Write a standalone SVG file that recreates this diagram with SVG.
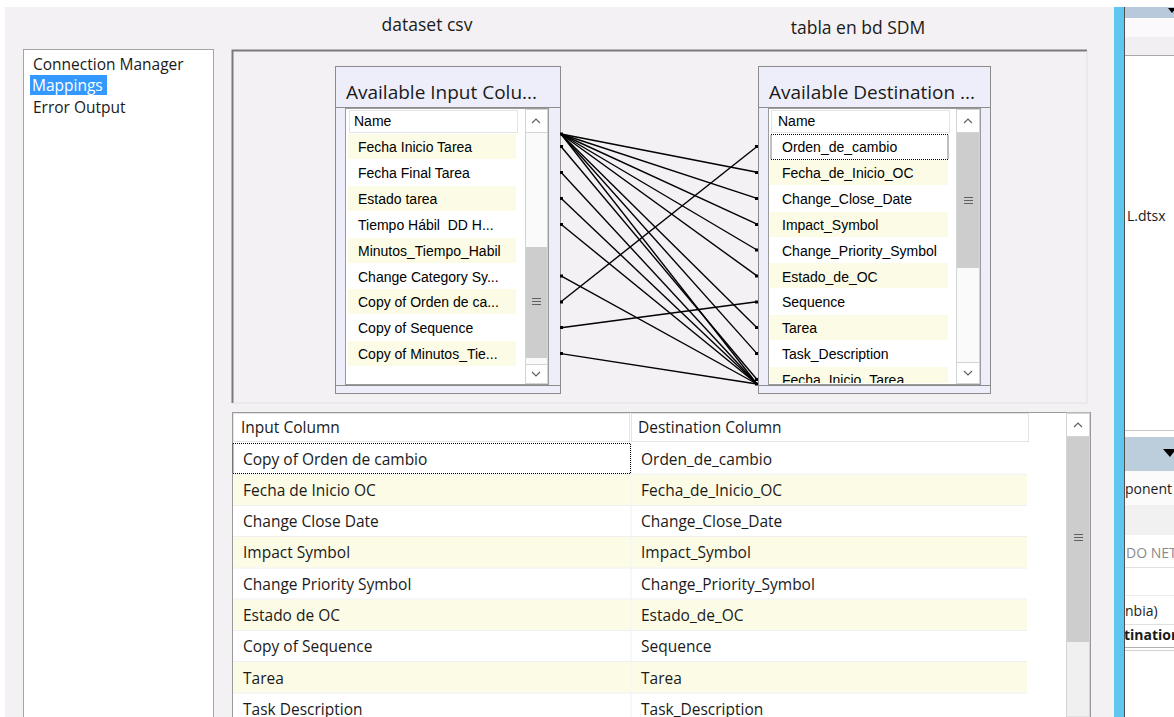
<svg xmlns="http://www.w3.org/2000/svg" width="1174" height="717" viewBox="0 0 1174 717">
<style>
.ui{font-family:"Open Sans","Noto Sans",sans-serif;font-size:15.5px;fill:#1a1a1a}
.hd{font-family:"Open Sans","Noto Sans",sans-serif;font-size:17.5px;fill:#1a1a1a}
.ttl{font-family:"Open Sans","Noto Sans",sans-serif;font-size:19px;fill:#1a1a1a}
.lst{font-family:"Liberation Sans",Arial,sans-serif;font-size:14px;fill:#000}
.yel{fill:#fcfce6}
.wht{fill:#ffffff}
.sbtn{fill:#ffffff;stroke:#d4d4d4;stroke-width:1}
.thumb{fill:#cdcdcd}
.arr{fill:none;stroke:#606060;stroke-width:1.2}
.grip{stroke:#606060;stroke-width:1}
.frame{fill:#eeeefb;stroke:#8c8c8c;stroke-width:1}
.cell{fill:#ffffff;stroke:#e3e3e3;stroke-width:1}
.conn line{stroke:#000;stroke-width:1.4}
.anc{fill:#000}
.rp{font-family:"Open Sans","Noto Sans",sans-serif;font-size:14px;fill:#1a1a1a}
</style>
<defs>
<clipPath id="rpClip"><rect x="1124" y="0" width="50" height="717"/></clipPath>
<clipPath id="destClip"><rect x="769" y="109" width="187" height="274"/></clipPath>
</defs>

<!-- background -->
<rect x="0" y="0" width="1174" height="717" fill="#ffffff"/>
<rect x="5" y="7" width="1110" height="710" fill="#f4f1f4"/>

<!-- header labels -->
<text class="hd" x="427" y="31" text-anchor="middle">dataset csv</text>
<text class="hd" x="858" y="34" text-anchor="middle">tabla en bd SDM</text>

<!-- navigation list -->
<g id="nav">
<rect x="23.5" y="49.5" width="190" height="680" fill="#ffffff" stroke="#a5a5a5"/>
<text class="ui" x="33" y="70">Connection Manager</text>
<rect x="30" y="75" width="77" height="20" fill="#3399ff"/>
<text class="ui" x="32" y="91" style="fill:#ffffff">Mappings</text>
<text class="ui" x="33" y="113">Error Output</text>
</g>

<!-- mapping panel -->
<g id="mapping-panel">
<rect x="232" y="50" width="855" height="353" fill="#f4f1f4"/>
<path d="M232.5,403 V50.5 H1087" fill="none" stroke="#7a7a7a" stroke-width="2"/>
<path d="M1087,51 V403 H233" fill="none" stroke="#e2e0e2" stroke-width="1"/>
</g>

<!-- input columns box -->
<g id="input-columns">
<rect class="frame" x="335.5" y="66.5" width="225" height="327"/>
<line x1="336" y1="107.5" x2="560" y2="107.5" stroke="#8c8c8c"/>
<line x1="336" y1="385.5" x2="560" y2="385.5" stroke="#8c8c8c"/>
<text class="ttl" x="346" y="99">Available Input Colu...</text>
<rect x="345.5" y="108.5" width="203" height="276" fill="#ffffff" stroke="#9a9a9a"/>
<rect class="cell" x="349.5" y="110.5" width="168" height="22"/>
<text class="lst" x="354" y="126">Name</text>
<rect class="yel" x="348" y="134" width="168" height="25"/>
<rect class="yel" x="348" y="186" width="168" height="25"/>
<rect class="yel" x="348" y="238" width="168" height="25"/>
<rect class="yel" x="348" y="289" width="168" height="25"/>
<rect class="yel" x="348" y="341" width="168" height="25"/>
<text class="lst" x="358" y="152">Fecha Inicio Tarea</text>
<text class="lst" x="358" y="178">Fecha Final Tarea</text>
<text class="lst" x="358" y="204">Estado tarea</text>
<text class="lst" x="358" y="230">Tiempo Hábil&#160; DD H...</text>
<text class="lst" x="358" y="256">Minutos_Tiempo_Habil</text>
<text class="lst" x="358" y="282">Change Category Sy...</text>
<text class="lst" x="358" y="307">Copy of Orden de ca...</text>
<text class="lst" x="358" y="333">Copy of Sequence</text>
<text class="lst" x="358" y="359">Copy of Minutos_Tie...</text>
<rect x="525.5" y="109.5" width="22" height="274" fill="#fafafa" stroke="#d4d4d4"/>
<rect class="sbtn" x="525.5" y="109.5" width="22" height="23"/>
<polyline class="arr" points="532,123 536,119 540,123"/>
<rect class="thumb" x="526" y="247" width="21" height="111"/>
<line class="grip" x1="532" y1="298.5" x2="541" y2="298.5"/>
<line class="grip" x1="532" y1="301.5" x2="541" y2="301.5"/>
<line class="grip" x1="532" y1="304.5" x2="541" y2="304.5"/>
<rect class="sbtn" x="525.5" y="364.5" width="22" height="19"/>
<polyline class="arr" points="532,372 536,376 540,372"/>
</g>

<!-- destination columns box -->
<g id="destination-columns">
<rect class="frame" x="758.5" y="66.5" width="232" height="327"/>
<line x1="759" y1="107.5" x2="990" y2="107.5" stroke="#8c8c8c"/>
<line x1="759" y1="385.5" x2="990" y2="385.5" stroke="#8c8c8c"/>
<text class="ttl" x="769" y="99">Available Destination ...</text>
<rect x="768.5" y="108.5" width="212" height="276" fill="#ffffff" stroke="#9a9a9a"/>
<rect class="cell" x="771.5" y="110.5" width="178" height="22"/>
<text class="lst" x="778" y="126">Name</text>
<g clip-path="url(#destClip)">
<rect class="yel" x="770" y="160" width="178" height="25"/>
<rect class="yel" x="770" y="212" width="178" height="25"/>
<rect class="yel" x="770" y="263" width="178" height="25"/>
<rect class="yel" x="770" y="315" width="178" height="25"/>
<rect class="yel" x="770" y="367" width="178" height="25"/>
<rect x="771" y="134.5" width="177" height="25" fill="none" stroke="#000" stroke-width="1" stroke-dasharray="1,1"/>
<text class="lst" x="782" y="152">Orden_de_cambio</text>
<text class="lst" x="782" y="178">Fecha_de_Inicio_OC</text>
<text class="lst" x="782" y="204">Change_Close_Date</text>
<text class="lst" x="782" y="230">Impact_Symbol</text>
<text class="lst" x="782" y="256">Change_Priority_Symbol</text>
<text class="lst" x="782" y="282">Estado_de_OC</text>
<text class="lst" x="782" y="307">Sequence</text>
<text class="lst" x="782" y="333">Tarea</text>
<text class="lst" x="782" y="359">Task_Description</text>
<text class="lst" x="782" y="385">Fecha_Inicio_Tarea</text>
</g>
<rect x="956.5" y="109.5" width="23" height="274" fill="#fafafa" stroke="#d4d4d4"/>
<rect class="sbtn" x="956.5" y="109.5" width="23" height="23"/>
<polyline class="arr" points="964,123 968,119 972,123"/>
<rect class="thumb" x="957" y="133" width="22" height="135"/>
<line class="grip" x1="964" y1="197.5" x2="973" y2="197.5"/>
<line class="grip" x1="964" y1="200.5" x2="973" y2="200.5"/>
<line class="grip" x1="964" y1="203.5" x2="973" y2="203.5"/>
<rect class="sbtn" x="956.5" y="362.5" width="23" height="21"/>
<polyline class="arr" points="964,371 968,375 972,371"/>
</g>

<!-- connectors -->
<g id="connectors" class="conn">
<line x1="561" y1="301.8" x2="757" y2="146.5"/>
<line x1="561" y1="134" x2="757" y2="172.3"/>
<line x1="561" y1="134" x2="757" y2="198.3"/>
<line x1="561" y1="134" x2="757" y2="224.2"/>
<line x1="561" y1="134" x2="757" y2="250"/>
<line x1="561" y1="134" x2="757" y2="275.9"/>
<line x1="561" y1="327.7" x2="757" y2="301.8"/>
<line x1="561" y1="134" x2="757" y2="327.7"/>
<line x1="561" y1="134" x2="757" y2="353.6"/>
<line x1="561" y1="146.5" x2="757" y2="379.5"/>
<line x1="561" y1="134" x2="757" y2="384"/>
<line x1="561" y1="172.3" x2="757" y2="384"/>
<line x1="561" y1="198.3" x2="757" y2="384"/>
<line x1="561" y1="224.2" x2="757" y2="384"/>
<line x1="561" y1="275.9" x2="757" y2="384"/>
<line x1="561" y1="353.6" x2="757" y2="384"/>
<rect class="anc" x="560" y="132.5" width="3" height="3"/>
<rect class="anc" x="560" y="145" width="3" height="3"/>
<rect class="anc" x="560" y="171" width="3" height="3"/>
<rect class="anc" x="560" y="197" width="3" height="3"/>
<rect class="anc" x="560" y="223" width="3" height="3"/>
<rect class="anc" x="560" y="274.5" width="3" height="3"/>
<rect class="anc" x="560" y="300.5" width="3" height="3"/>
<rect class="anc" x="560" y="326" width="3" height="3"/>
<rect class="anc" x="560" y="352" width="3" height="3"/>
<rect class="anc" x="755" y="145" width="3" height="3"/>
<rect class="anc" x="755" y="171" width="3" height="3"/>
<rect class="anc" x="755" y="197" width="3" height="3"/>
<rect class="anc" x="755" y="223" width="3" height="3"/>
<rect class="anc" x="755" y="248.5" width="3" height="3"/>
<rect class="anc" x="755" y="274.5" width="3" height="3"/>
<rect class="anc" x="755" y="300.5" width="3" height="3"/>
<rect class="anc" x="755" y="326" width="3" height="3"/>
<rect class="anc" x="755" y="352" width="3" height="3"/>
<rect class="anc" x="755" y="378" width="3" height="3"/>
<rect class="anc" x="755" y="382.5" width="3" height="3"/>
</g>

<!-- mapping table -->
<g id="mapping-table">
<rect x="232.5" y="412.5" width="858" height="310" fill="#ffffff" stroke="#9a9a9a"/>
<rect class="cell" x="233.5" y="413.5" width="396" height="28"/>
<rect class="cell" x="631.5" y="413.5" width="397" height="28"/>
<text class="ui" x="241" y="433">Input Column</text>
<text class="ui" x="638" y="433">Destination Column</text>
<rect class="yel" x="233" y="474.5" width="397" height="30.5"/>
<rect class="yel" x="632" y="474.5" width="395" height="30.5"/>
<rect class="yel" x="233" y="537" width="397" height="30.5"/>
<rect class="yel" x="632" y="537" width="395" height="30.5"/>
<rect class="yel" x="233" y="599.5" width="397" height="30.5"/>
<rect class="yel" x="632" y="599.5" width="395" height="30.5"/>
<rect class="yel" x="233" y="662" width="397" height="30.5"/>
<rect class="yel" x="632" y="662" width="395" height="30.5"/>
<g stroke="#f0f0f0" stroke-width="1">
<line x1="233" y1="474" x2="1027" y2="474"/>
<line x1="233" y1="505.5" x2="1027" y2="505.5"/>
<line x1="233" y1="536.5" x2="1027" y2="536.5"/>
<line x1="233" y1="568" x2="1027" y2="568"/>
<line x1="233" y1="599" x2="1027" y2="599"/>
<line x1="233" y1="630.5" x2="1027" y2="630.5"/>
<line x1="233" y1="661.5" x2="1027" y2="661.5"/>
<line x1="233" y1="693" x2="1027" y2="693"/>
<line x1="631" y1="442" x2="631" y2="717"/>
</g>
<rect x="233" y="443.5" width="397.5" height="30" fill="none" stroke="#000" stroke-width="1" stroke-dasharray="1,1"/>
<text class="ui" x="243" y="465">Copy of Orden de cambio</text>
<text class="ui" x="243" y="496">Fecha de Inicio OC</text>
<text class="ui" x="243" y="527">Change Close Date</text>
<text class="ui" x="243" y="558">Impact Symbol</text>
<text class="ui" x="243" y="590">Change Priority Symbol</text>
<text class="ui" x="243" y="621">Estado de OC</text>
<text class="ui" x="243" y="652">Copy of Sequence</text>
<text class="ui" x="243" y="684">Tarea</text>
<text class="ui" x="243" y="715">Task Description</text>
<text class="ui" x="641" y="465">Orden_de_cambio</text>
<text class="ui" x="641" y="496">Fecha_de_Inicio_OC</text>
<text class="ui" x="641" y="527">Change_Close_Date</text>
<text class="ui" x="641" y="558">Impact_Symbol</text>
<text class="ui" x="641" y="590">Change_Priority_Symbol</text>
<text class="ui" x="641" y="621">Estado_de_OC</text>
<text class="ui" x="641" y="652">Sequence</text>
<text class="ui" x="641" y="684">Tarea</text>
<text class="ui" x="641" y="715">Task_Description</text>
<rect x="1066.5" y="413" width="23" height="304" fill="#f0f0f0" stroke="#d4d4d4"/>
<rect class="sbtn" x="1066.5" y="413.5" width="23" height="23"/>
<polyline class="arr" points="1074,427 1078,423 1082,427"/>
<rect class="thumb" x="1067" y="437" width="22" height="205"/>
<line class="grip" x1="1074" y1="534.5" x2="1083" y2="534.5"/>
<line class="grip" x1="1074" y1="537.5" x2="1083" y2="537.5"/>
<line class="grip" x1="1074" y1="540.5" x2="1083" y2="540.5"/>
</g>

<!-- right side panel fragment -->
<g id="side-panel">
<rect x="1114" y="7" width="10" height="710" fill="#5ec6ef"/>
<g clip-path="url(#rpClip)">
<rect x="1124" y="0" width="50" height="717" fill="#ffffff"/>
<rect x="1124" y="7" width="50" height="11" fill="#b7c9da"/>
<polygon points="1168,8 1176,8 1172,13" fill="#000"/>
<rect x="1124" y="18" width="50" height="19" fill="#fbf9fb"/>
<rect x="1124" y="37" width="50" height="18" fill="#f1eff1"/>
<line x1="1124" y1="55.5" x2="1174" y2="55.5" stroke="#a8a8a8"/>
<text class="rp" x="1127" y="221">L.dtsx</text>
<line x1="1124" y1="430.5" x2="1174" y2="430.5" stroke="#c8c8c8"/>
<rect x="1124" y="437" width="50" height="34" fill="#bccddb"/>
<polygon points="1163,449 1176,449 1170,457" fill="#000"/>
<rect x="1124" y="471" width="50" height="34" fill="#fbfbfb"/>
<rect x="1124" y="505" width="50" height="30" fill="#f1f1f1"/>
<text class="rp" x="1125" y="494">ponent</text>
<text class="rp" x="1126" y="558" style="fill:#8a8a8a">DO NET</text>
<line x1="1124" y1="567.5" x2="1174" y2="567.5" stroke="#e0e0e0"/>
<line x1="1124" y1="595.5" x2="1174" y2="595.5" stroke="#ececec"/>
<text class="rp" x="1125" y="616">nbia)</text>
<line x1="1124" y1="624.5" x2="1174" y2="624.5" stroke="#e0e0e0"/>
<text class="rp" x="1124" y="640" style="font-weight:bold">tination</text>
<line x1="1124" y1="647.5" x2="1174" y2="647.5" stroke="#b0b0b0"/>
<line x1="1124" y1="650.5" x2="1174" y2="650.5" stroke="#d0d0d0"/>
</g>
<line x1="1124.5" y1="7" x2="1124.5" y2="717" stroke="#505050"/>
</g>
</svg>
